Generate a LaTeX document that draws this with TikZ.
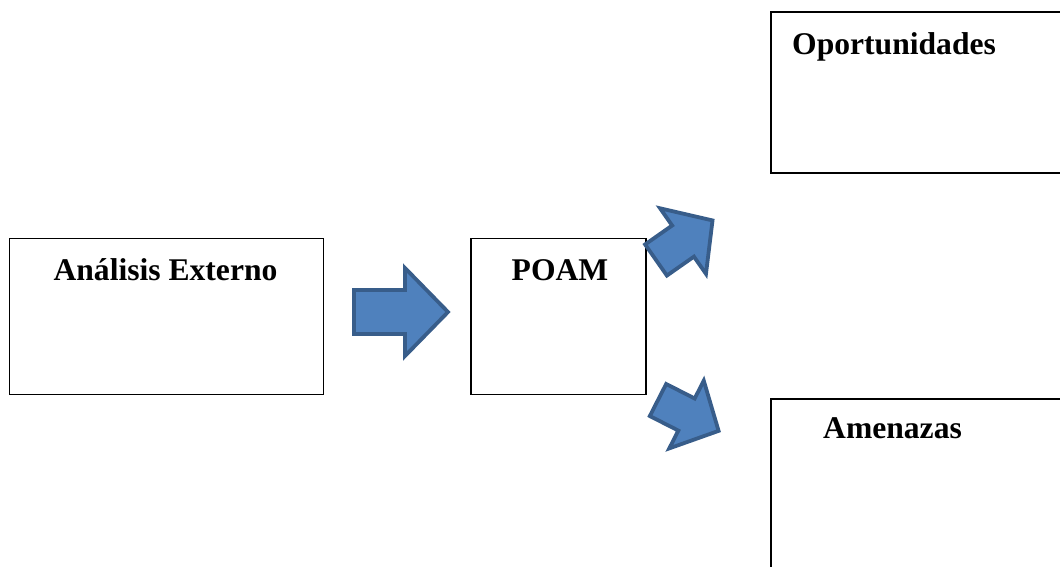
\documentclass[tikz,border=0pt]{standalone}
\usepackage{fontspec}
\setmainfont{Liberation Serif}
\definecolor{arrowfill}{HTML}{4F81BD}
\definecolor{arrowline}{HTML}{385D8A}
\begin{document}
\begin{tikzpicture}[x=1pt, y=-1pt,
    box/.style={draw, line width=1.2pt, inner sep=0pt},
    title/.style={font=\fontsize{31.6pt}{38pt}\selectfont\bfseries, inner sep=0pt},
    blockarrow/.style={fill=arrowfill, draw=arrowline, line width=3.8pt}
]
\useasboundingbox (0,0) rectangle (1060,566);
\clip (0,0) rectangle (1060,566);

% boxes
\node[box, minimum width=314pt, minimum height=156pt] (ext) at (166.5,316.5) {};
\node[box, minimum width=175pt, minimum height=156pt] (poam) at (558.5,316.5) {};
\node[box, minimum width=309pt, minimum height=161pt] (opor) at (925.5,92.5) {};
\node[box, minimum width=309pt, minimum height=201pt] (amen) at (925.5,499.5) {};

% titles
\node[title, anchor=base] (extlabel) at (165.5,280) {Análisis Externo};
\node[title, anchor=base] (poamlabel) at (560,280) {POAM};
\node[title, anchor=base west] (oporlabel) at (792,54) {Oportunidades};
\node[title, anchor=base west] (amenlabel) at (823,438) {Amenazas};

% block arrows
\draw[blockarrow] (354,290) -- (405,290) -- (405,268) -- (448,312)
    -- (405,356) -- (405,334) -- (354,334) -- cycle;
\draw[blockarrow, shift={(656,260)}, rotate=35] (0,-19) -- (33,-19) -- (33,-40)
    -- (69,0) -- (33,40) -- (33,19) -- (0,19) -- cycle;
\draw[blockarrow, shift={(658,400)}, rotate=-27] (0,-18) -- (32,-18) -- (32,-38)
    -- (68,0) -- (32,38) -- (32,18) -- (0,18) -- cycle;

\end{tikzpicture}
\end{document}
